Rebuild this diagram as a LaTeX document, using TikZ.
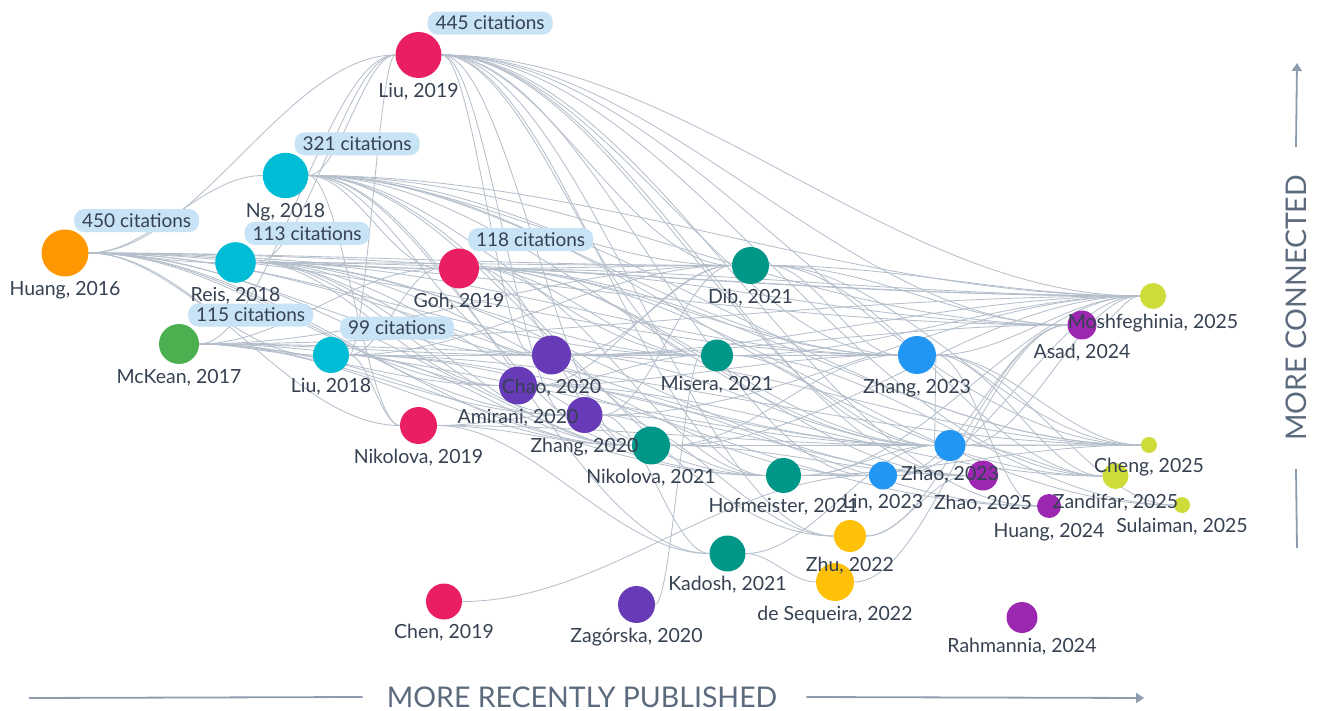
\documentclass[tikz,border=0pt]{standalone}
\usepackage{fontspec}
\setmainfont{Lato}
\usepackage{xcolor}
\usepackage{tikz}
\usetikzlibrary{positioning, arrows.meta, calc}
\pgfdeclarelayer{background}
\pgfsetlayers{background,main}
\definecolor{papercrimson}{HTML}{E91E63}
\definecolor{papercyan}{HTML}{00BCD4}
\definecolor{paperorange}{HTML}{FF9800}
\definecolor{papergreen}{HTML}{4CAF50}
\definecolor{paperviolet}{HTML}{673AB7}
\definecolor{paperteal}{HTML}{009688}
\definecolor{paperamber}{HTML}{FFC107}
\definecolor{paperblue}{HTML}{2196F3}
\definecolor{paperpurple}{HTML}{9C27B0}
\definecolor{paperlime}{HTML}{CDDC39}
\definecolor{labeltext}{HTML}{364152}
\definecolor{linegray}{HTML}{B5BFCB}
\definecolor{badgeblue}{HTML}{C8E2F6}
\definecolor{axisgray}{HTML}{8D9CAF}
\definecolor{axistext}{HTML}{5B6A7C}

% name / x / y / radius / colour / label
\newcommand\paperlist{
  Huang16/65/253/23.5/paperorange/{Huang, 2016},
  McKean17/179/344/20/papergreen/{McKean, 2017},
  Ng18/285.5/175.5/22.7/papercyan/{Ng, 2018},
  Reis18/235.5/262.5/20.3/papercyan/{Reis, 2018},
  LiuB18/331/355/18/papercyan/{Liu, 2018},
  Liu19/418.5/55/23/papercrimson/{Liu, 2019},
  Goh19/459/268.5/20/papercrimson/{Goh, 2019},
  Niko19/418.5/425.5/18.5/papercrimson/{Nikolova, 2019},
  Chen19/444/601.5/18/papercrimson/{Chen, 2019},
  Chao20/551.5/355/19.5/paperviolet/{Chao, 2020},
  Amir20/518/385.5/19/paperviolet/{Amirani, 2020},
  Zhang20/584.5/415/18/paperviolet/{Zhang, 2020},
  Zago20/636.5/604.5/18.5/paperviolet/{Zagórska, 2020},
  Dib21/750.5/265.5/18.5/paperteal/{Dib, 2021},
  Mise21/717/355.5/16/paperteal/{Misera, 2021},
  Niko21/651/445.5/19/paperteal/{Nikolova, 2021},
  Hofm21/783.5/475.5/17.5/paperteal/{Hofmeister, 2021},
  Kado21/727.5/553.5/18/paperteal/{Kadosh, 2021},
  Zhu22/850/536/16/paperamber/{Zhu, 2022},
  Sequ22/835/582/19/paperamber/{de Sequeira, 2022},
  Zhang23/917/355/19/paperblue/{Zhang, 2023},
  Zhao23/950/445.5/15.5/paperblue/{Zhao, 2023},
  Lin23/883/475.5/14/paperblue/{Lin, 2023},
  Asad24/1082/325/14.5/paperpurple/{Asad, 2024},
  Huang24/1049/506/12/paperpurple/{Huang, 2024},
  Rahm24/1022/617.5/15.5/paperpurple/{Rahmannia, 2024},
  Zhao25/983/475.5/15/paperpurple/{Zhao, 2025},
  Mosh25/1153/296/13/paperlime/{Moshfeghinia, 2025},
  Cheng25/1149/445/8/paperlime/{Cheng, 2025},
  Zand25/1115.5/476/13/paperlime/{Zandifar, 2025},
  Sula25/1182/505/8/paperlime/{Sulaiman, 2025}}

\begin{document}
\begin{tikzpicture}[x=1pt, y=-1pt,
  paper/.style={circle, inner sep=0pt, draw=none},
  paperlabel/.style={inner sep=0pt, text=labeltext, font=\fontsize{19.5}{22}\selectfont},
  badge/.style={fill=badgeblue, rounded corners=10pt, inner xsep=8pt, inner ysep=0pt,
    minimum height=23pt, anchor=south west, text=labeltext, font=\fontsize{19}{21}\selectfont},
  citeline/.style={draw=linegray, line width=0.85pt},
  axisline/.style={draw=axisgray, line width=1.8pt},
  axislabel/.style={inner sep=0pt, text=axistext, font=\fontsize{28.5}{30}\selectfont}]
  \useasboundingbox (0,0) rectangle (1318,711);

  \foreach \pn/\px/\py/\pr/\pc/\pl in \paperlist{
    \node[paper, fill=\pc, minimum size=2*\pr pt] (\pn) at (\px,\py) {};
  }

  \begin{pgfonlayer}{background}
    \foreach \src/\dst in {
      Huang16/Ng18, Huang16/Liu19, Huang16/Reis18, Huang16/LiuB18,
      Huang16/Goh19, Huang16/Niko19, Huang16/Chao20, Huang16/Amir20, Huang16/Zhang20,
      Huang16/Dib21, Huang16/Mise21, Huang16/Niko21, Huang16/Hofm21, Huang16/Zhang23,
      Huang16/Mosh25, Huang16/Asad24, Huang16/Zhao23,
      McKean17/Liu19, McKean17/LiuB18, McKean17/Goh19, McKean17/Chao20, McKean17/Amir20,
      McKean17/Zhang20, McKean17/Dib21, McKean17/Mise21, McKean17/Niko21, McKean17/Hofm21,
      McKean17/Zhao23, McKean17/Mosh25,
      Ng18/Liu19, Ng18/Goh19, Ng18/Niko19, Ng18/Chao20, Ng18/Dib21, Ng18/Mise21, Ng18/Niko21,
      Ng18/Hofm21, Ng18/Kado21, Ng18/Zhu22, Ng18/Zhang23, Ng18/Zhao23, Ng18/Asad24,
      Ng18/Mosh25, Ng18/Cheng25, Ng18/Zand25,
      Reis18/Liu19, Reis18/Goh19, Reis18/Chao20, Reis18/Amir20, Reis18/Zhang20, Reis18/Dib21,
      Reis18/Mise21, Reis18/Niko21, Reis18/Hofm21, Reis18/Lin23, Reis18/Zhang23,
      Reis18/Mosh25, Reis18/Zhao25,
      LiuB18/Liu19, LiuB18/Goh19, LiuB18/Niko19, LiuB18/Chao20, LiuB18/Amir20, LiuB18/Dib21,
      LiuB18/Niko21, LiuB18/Zhang23, LiuB18/Zhao23, LiuB18/Cheng25, LiuB18/Huang24,
      Liu19/Chao20, Liu19/Zhang20, Liu19/Dib21, Liu19/Mise21, Liu19/Niko21, Liu19/Hofm21,
      Liu19/Zhu22, Liu19/Zhang23, Liu19/Zhao23, Liu19/Lin23,
      Liu19/Asad24, Liu19/Mosh25, Liu19/Zhao25, Liu19/Cheng25, Liu19/Zand25, Liu19/Huang24,
      Goh19/Dib21, Goh19/Mise21, Goh19/Niko21, Goh19/Hofm21, Goh19/Zhang23, Goh19/Zhao23,
      Goh19/Asad24, Goh19/Mosh25, Goh19/Zhao25, Goh19/Cheng25, Goh19/Sula25,
      Niko19/Zhang20, Niko19/Niko21, Niko19/Kado21, Niko19/Zhao23,
      Chen19/Lin23,
      Chao20/Dib21, Chao20/Mise21, Chao20/Zhang23, Chao20/Zhao23, Chao20/Asad24,
      Chao20/Mosh25, Chao20/Cheng25,
      Amir20/Dib21, Amir20/Mise21, Amir20/Zhang23, Amir20/Zand25, Amir20/Huang24,
      Zhang20/Dib21, Zhang20/Kado21, Zhang20/Zhu22, Zhang20/Zhao25, Zhang20/Mosh25,
      Zago20/Mise21,
      Dib21/Zhang23, Dib21/Asad24, Dib21/Mosh25, Dib21/Cheng25, Dib21/Zand25,
      Mise21/Zhang23, Mise21/Zhao23, Mise21/Mosh25, Mise21/Sula25,
      Niko21/Zhang23, Niko21/Zhao23, Niko21/Zhao25, Niko21/Mosh25, Niko21/Cheng25,
      Hofm21/Lin23, Hofm21/Zhao23, Hofm21/Mosh25, Hofm21/Cheng25,
      Kado21/Sequ22, Kado21/Zhao23,
      Zhu22/Asad24, Zhu22/Zhao25,
      Sequ22/Asad24,
      Zhang23/Zhao23, Zhang23/Mosh25, Zhang23/Cheng25, Zhang23/Zand25, Zhang23/Huang24,
      Zhang23/Sula25,
      Zhao23/Mosh25, Zhao23/Cheng25, Zhao23/Zand25,
      Lin23/Asad24, Lin23/Mosh25,
      Asad24/Mosh25}{
      \draw[citeline] let \p1=(\src.east), \p2=(\dst.west) in
        (\p1) .. controls ({\x1+0.35*(\x2-\x1)},\y1) and ({\x2-0.35*(\x2-\x1)},\y2) .. (\p2);
    }
  \end{pgfonlayer}

  \foreach \pn/\cites in {Huang16/450, Liu19/445, Ng18/321, Reis18/113, Goh19/118, McKean17/115, LiuB18/99}{
    \node[badge] (\pn-cit) at ([xshift=9pt, yshift=-3pt]\pn.north) {\cites{} citations};
  }

  \foreach \pn/\px/\py/\pr/\pc/\pl in \paperlist{
    \node[paperlabel, below=4.5pt of \pn] (\pn-lab) {\pl};
  }

  \coordinate (xstart) at (29,698);
  \coordinate (xend) at (1144,698);
  \node[axislabel] (xaxis) at (582,697) {MORE RECENTLY PUBLISHED};
  \draw[axisline] (xstart) -- ([xshift=-24pt]xaxis.west);
  \draw[axisline, -{Triangle[width=10pt, length=8pt]}] ([xshift=29pt]xaxis.east) -- (xend);

  \coordinate (ystart) at (1297,548);
  \coordinate (yend) at (1297,63);
  \node[axislabel, rotate=90] (yaxis) at (1296,308) {MORE CONNECTED};
  \draw[axisline] (ystart) -- ([yshift=-28pt]yaxis.west);
  \draw[axisline, -{Triangle[width=10pt, length=8pt]}] ([yshift=28pt]yaxis.east) -- (yend);
\end{tikzpicture}
\end{document}
